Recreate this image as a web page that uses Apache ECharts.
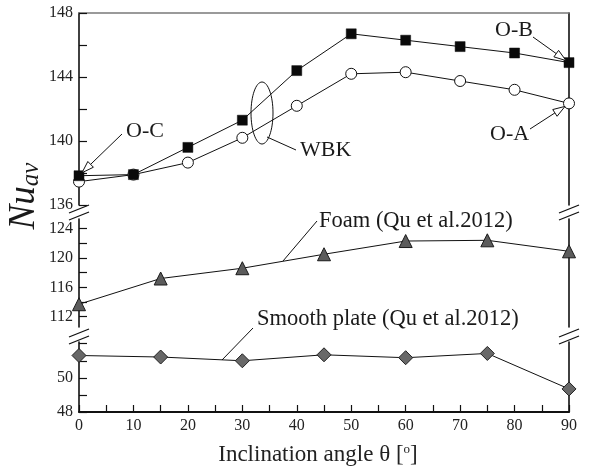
<!DOCTYPE html>
<html>
<head>
<meta charset="utf-8">
<script src="https://cdn.jsdelivr.net/npm/echarts@6/dist/echarts.min.js"></script>
<style>
  html, body { margin: 0; padding: 0; background: #fff; }
  #chart { width: 610px; height: 474px; }
</style>
</head>
<body>
<div id="chart"></div>
<script>
// Average Nusselt number vs. inclination angle
const angleWBK = [0, 10, 20, 30, 40, 50, 60, 70, 80, 90];
const nuOB = [137.83, 137.9, 139.6, 141.3, 144.4, 146.7, 146.3, 145.9, 145.5, 144.9];
const nuOA = [137.46, 137.9, 138.65, 140.2, 142.2, 144.2, 144.3, 143.75, 143.2, 142.35];

const angleQu = [0, 15, 30, 45, 60, 75, 90];
const nuFoam = [113.7, 117.2, 118.6, 120.5, 122.3, 122.4, 120.9];
const nuSmooth = [51.31, 51.22, 51.0, 51.35, 51.18, 51.43, 49.35];

const xTickValues = [0, 5, 10, 15, 20, 25, 30, 35, 40, 45, 50, 55, 60, 65, 70, 75, 80, 85, 90];
const xLabelValues = [0, 10, 20, 30, 40, 50, 60, 70, 80, 90];
const yTicksTop = [136, 138, 140, 142, 144, 146, 148];
const yLabelsTop = [136, 140, 144, 148];
const yTicksMid = [112, 114, 116, 118, 120, 122, 124];
const yLabelsMid = [112, 116, 120, 124];
const yTicksLow = [48, 49, 50, 51, 52];
const yLabelsLow = [48, 50];

const FONT = 'Liberation Serif';
const INK = '#111';

const chart = echarts.init(document.getElementById('chart'));

const zip = (xs, ys) => xs.map((x, i) => [x, ys[i]]);

function leftAxis(gi, min, max, ticks, labels) {
  return {
    type: 'value', gridIndex: gi, min: min, max: max, position: 'left',
    axisLine: { show: true, onZero: false, lineStyle: { color: INK, width: 1.6 } },
    axisTick: { show: true, inside: true, length: 8, customValues: ticks, lineStyle: { color: INK, width: 1.2 } },
    axisLabel: { customValues: labels, fontFamily: FONT, fontSize: 16, color: '#222', margin: 6 },
    splitLine: { show: false }
  };
}
function rightAxis(gi, min, max) {
  return {
    type: 'value', gridIndex: gi, min: min, max: max, position: 'right',
    axisLine: { show: true, onZero: false, lineStyle: { color: INK, width: 1.6 } },
    axisTick: { show: false }, axisLabel: { show: false }, splitLine: { show: false }
  };
}

const option = {
  animation: false,
  backgroundColor: '#fff',
  grid: [
    { left: 79, right: 41, top: 13, height: 192 },
    { left: 79, right: 41, top: 219, height: 108 },
    { left: 79, right: 41, top: 342, height: 70 }
  ],
  xAxis: [
    {
      type: 'value', gridIndex: 0, min: 0, max: 90, position: 'top',
      axisLine: { show: true, onZero: false, lineStyle: { color: '#7a7a7a', width: 1.6 } },
      axisTick: { show: false }, axisLabel: { show: false }, splitLine: { show: false }
    },
    {
      type: 'value', gridIndex: 1, min: 0, max: 90, show: false
    },
    {
      type: 'value', gridIndex: 2, min: 0, max: 90, position: 'bottom',
      axisLine: { show: true, onZero: false, lineStyle: { color: INK, width: 2 } },
      axisTick: { show: true, inside: true, length: 7, customValues: xTickValues, lineStyle: { color: INK, width: 1.2 } },
      axisLabel: { customValues: xLabelValues, fontFamily: FONT, fontSize: 16, color: '#222', margin: 6 },
      splitLine: { show: false },
      name: 'Inclination angle θ [{s|o}]',
      nameLocation: 'middle', nameGap: 31,
      nameTextStyle: {
        fontFamily: FONT, fontSize: 23, color: '#222', verticalAlign: 'top', padding: [0, 12, 0, 0],
        rich: { s: { fontFamily: FONT, fontSize: 13, color: '#222', verticalAlign: 'top', padding: [0, 0, 9, 0] } }
      }
    }
  ],
  yAxis: [
    leftAxis(0, 136, 148, yTicksTop, yLabelsTop),
    leftAxis(1, 110.6, 125.3, yTicksMid, yLabelsMid),
    leftAxis(2, 48, 52.1, yTicksLow, yLabelsLow),
    rightAxis(0, 136, 148),
    rightAxis(1, 110.6, 125.3),
    rightAxis(2, 48, 52.1)
  ],
  series: [
    {
      name: 'O-A', type: 'line', xAxisIndex: 0, yAxisIndex: 0, clip: false,
      data: zip(angleWBK, nuOA),
      symbol: 'circle', symbolSize: 11,
      lineStyle: { color: INK, width: 1 },
      itemStyle: { color: '#fff', borderColor: INK, borderWidth: 1 }
    },
    {
      name: 'O-B', type: 'line', xAxisIndex: 0, yAxisIndex: 0, clip: false,
      data: zip(angleWBK, nuOB),
      symbol: 'rect', symbolSize: 10,
      lineStyle: { color: INK, width: 1 },
      itemStyle: { color: '#0a0a0a', borderColor: INK, borderWidth: 0.5 }
    },
    {
      name: 'Foam', type: 'line', xAxisIndex: 1, yAxisIndex: 1, clip: false,
      data: zip(angleQu, nuFoam),
      symbol: 'triangle', symbolSize: 13,
      lineStyle: { color: INK, width: 1 },
      itemStyle: { color: '#5c5c5c', borderColor: '#1a1a1a', borderWidth: 1 }
    },
    {
      name: 'Smooth plate', type: 'line', xAxisIndex: 2, yAxisIndex: 2, clip: false,
      data: zip(angleQu, nuSmooth),
      symbol: 'diamond', symbolSize: 14,
      lineStyle: { color: INK, width: 1 },
      itemStyle: { color: '#686868', borderColor: '#222', borderWidth: 1 }
    }
  ]
};

chart.setOption(option);

// ---- annotations: break marks, callouts, arrows ----
const px = (axisIdx, x, y) => chart.convertToPixel({ xAxisIndex: axisIdx, yAxisIndex: axisIdx }, [x, y]);

const g = [];
const lineEl = (x1, y1, x2, y2, w) => ({
  type: 'line', silent: true, z: 50,
  shape: { x1: x1, y1: y1, x2: x2, y2: y2 },
  style: { stroke: INK, lineWidth: w || 1 }
});
const textEl = (x, y, text, size, align) => ({
  type: 'text', silent: true, z: 60, x: x, y: y,
  style: { text: text, fontFamily: FONT, fontSize: size, fill: '#1a1a1a', align: align || 'left', verticalAlign: 'middle' }
});

// hollow arrowhead pointing at (tx, ty), coming from (fx, fy)
function arrow(fx, fy, tx, ty) {
  const dx = tx - fx, dy = ty - fy, len = Math.hypot(dx, dy);
  const ux = dx / len, uy = dy / len, nx = -uy, ny = ux;
  const headLen = 12, headHalf = 4;
  const bx = tx - ux * headLen, by = ty - uy * headLen;
  g.push(lineEl(fx, fy, bx, by, 1));
  g.push({
    type: 'polygon', silent: true, z: 55,
    shape: { points: [[tx, ty], [bx + nx * headHalf, by + ny * headHalf], [bx - nx * headHalf, by - ny * headHalf]] },
    style: { fill: '#fff', stroke: INK, lineWidth: 1 }
  });
}

// axis break marks (double slashes) on both sides
const leftX = px(0, 0, 140)[0], rightX = px(0, 90, 140)[0];
[[209, 216], [333, 340]].forEach(pair => {
  [leftX, rightX].forEach(cx => {
    pair.forEach(cy => g.push(lineEl(cx - 10, cy + 4, cx + 10, cy - 4, 1.3)));
  });
});

// O-C callout to first point
const pOC = px(0, angleWBK[0], nuOB[0]);
arrow(122, 134, pOC[0] + 3, pOC[1] - 3);
g.push(textEl(126, 131, 'O-C', 22));

// O-B callout to last square
const pOB = px(0, angleWBK[9], nuOB[9]);
arrow(533, 37, pOB[0] - 3, pOB[1] - 2);
g.push(textEl(495, 30, 'O-B', 22));

// O-A callout to last circle
const pOA = px(0, angleWBK[9], nuOA[9]);
arrow(530, 129, pOA[0] - 4, pOA[1] + 3);
g.push(textEl(490, 134, 'O-A', 22));

// WBK grouping ellipse
g.push({
  type: 'ellipse', silent: true, z: 50,
  shape: { cx: 262, cy: 113, rx: 11, ry: 31 },
  style: { fill: 'none', stroke: INK, lineWidth: 1 }
});
g.push(lineEl(267, 137, 296, 150, 1));
g.push(textEl(300, 150, 'WBK', 22));

// Foam label with leader line
g.push(lineEl(317, 221, 283, 261, 1));
g.push(textEl(319, 221, 'Foam (Qu et al.2012)', 22.5));

// Smooth plate label with leader line
g.push(lineEl(253, 328, 222, 360, 1));
g.push(textEl(257, 319, 'Smooth plate (Qu et al.2012)', 22.5));

// y-axis title
g.push({
  type: 'text', silent: true, z: 60, x: 24, y: 196, rotation: Math.PI / 2,
  style: {
    text: '{n|Nu}{s|av}', align: 'center', verticalAlign: 'middle',
    rich: {
      n: { fontFamily: FONT, fontStyle: 'italic', fontSize: 37, fill: '#1a1a1a' },
      s: { fontFamily: FONT, fontStyle: 'italic', fontSize: 25, fill: '#1a1a1a', padding: [15, 0, 0, 0] }
    }
  }
});

chart.setOption({ graphic: { elements: g } });
</script>
</body>
</html>
